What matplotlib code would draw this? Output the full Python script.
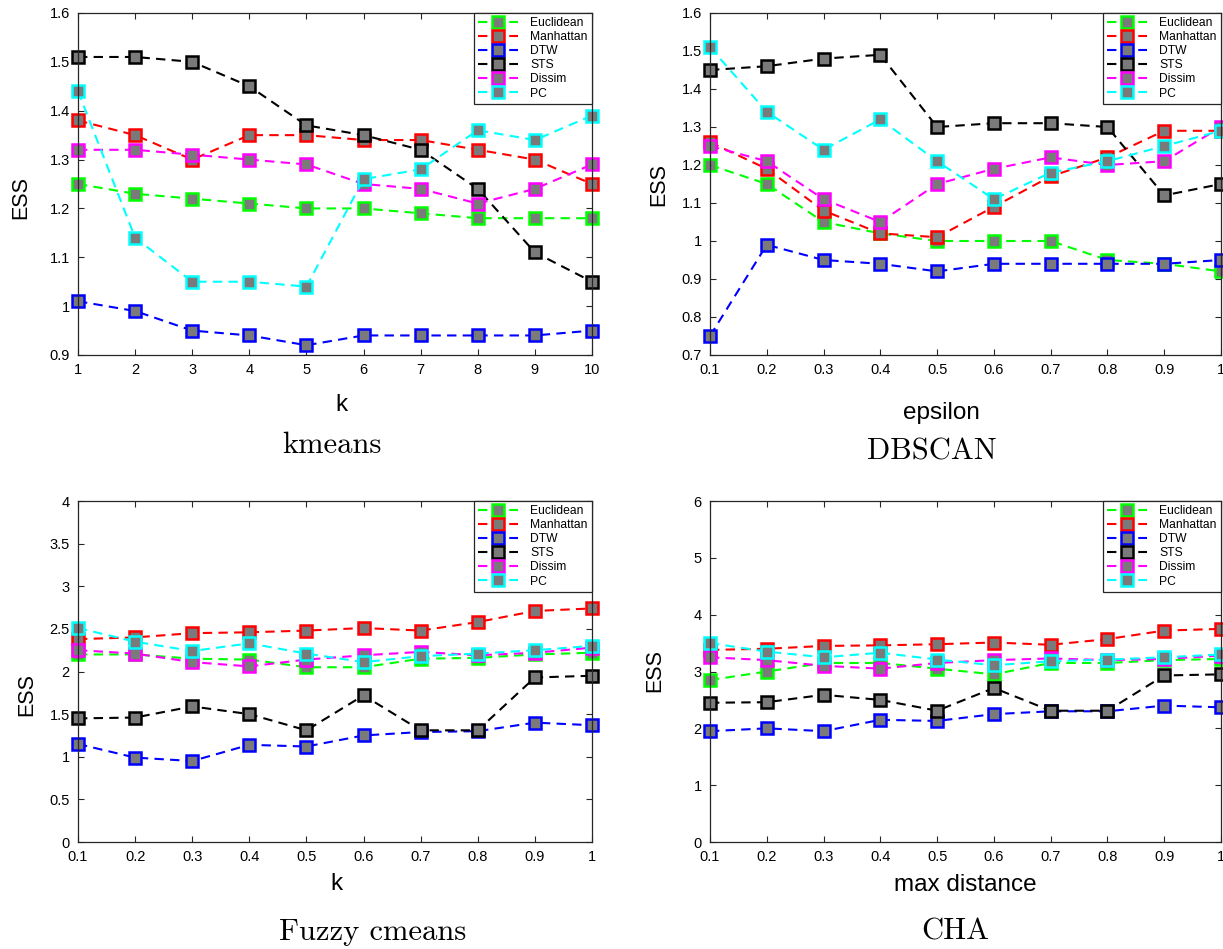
import matplotlib.pyplot as plt
from matplotlib.ticker import FuncFormatter

# x values
k_values = [1, 2, 3, 4, 5, 6, 7, 8, 9, 10]
frac_values = [0.1, 0.2, 0.3, 0.4, 0.5, 0.6, 0.7, 0.8, 0.9, 1.0]

methods = ["Euclidean", "Manhattan", "DTW", "STS", "Dissim", "PC"]
colors = ["#00ff00", "#ff0000", "#0000ff", "#000000", "#ff00ff", "#00ffff"]

# ESS per method (rows follow `methods`)
kmeans_ess = [
    [1.25, 1.23, 1.22, 1.21, 1.20, 1.20, 1.19, 1.18, 1.18, 1.18],
    [1.38, 1.35, 1.30, 1.35, 1.35, 1.34, 1.34, 1.32, 1.30, 1.25],
    [1.01, 0.99, 0.95, 0.94, 0.92, 0.94, 0.94, 0.94, 0.94, 0.95],
    [1.51, 1.51, 1.50, 1.45, 1.37, 1.35, 1.32, 1.24, 1.11, 1.05],
    [1.32, 1.32, 1.31, 1.30, 1.29, 1.25, 1.24, 1.21, 1.24, 1.29],
    [1.44, 1.14, 1.05, 1.05, 1.04, 1.26, 1.28, 1.36, 1.34, 1.39],
]
dbscan_ess = [
    [1.20, 1.15, 1.05, 1.02, 1.00, 1.00, 1.00, 0.95, 0.94, 0.92],
    [1.26, 1.19, 1.08, 1.02, 1.01, 1.09, 1.17, 1.22, 1.29, 1.29],
    [0.75, 0.99, 0.95, 0.94, 0.92, 0.94, 0.94, 0.94, 0.94, 0.95],
    [1.45, 1.46, 1.48, 1.49, 1.30, 1.31, 1.31, 1.30, 1.12, 1.15],
    [1.25, 1.21, 1.11, 1.05, 1.15, 1.19, 1.22, 1.20, 1.21, 1.30],
    [1.51, 1.34, 1.24, 1.32, 1.21, 1.11, 1.18, 1.21, 1.25, 1.29],
]
fuzzy_ess = [
    [2.20, 2.20, 2.15, 2.14, 2.05, 2.05, 2.15, 2.16, 2.20, 2.22],
    [2.38, 2.40, 2.45, 2.46, 2.48, 2.51, 2.48, 2.58, 2.71, 2.74],
    [1.15, 0.99, 0.95, 1.14, 1.12, 1.25, 1.29, 1.30, 1.40, 1.37],
    [1.45, 1.46, 1.59, 1.50, 1.31, 1.72, 1.31, 1.31, 1.93, 1.95],
    [2.25, 2.21, 2.11, 2.06, 2.14, 2.19, 2.23, 2.19, 2.22, 2.28],
    [2.51, 2.35, 2.24, 2.33, 2.21, 2.11, 2.18, 2.21, 2.25, 2.30],
]
cha_ess = [
    [2.85, 3.00, 3.15, 3.15, 3.05, 2.95, 3.15, 3.15, 3.20, 3.22],
    [3.38, 3.40, 3.45, 3.46, 3.48, 3.51, 3.47, 3.57, 3.72, 3.75],
    [1.95, 2.00, 1.95, 2.15, 2.13, 2.25, 2.30, 2.30, 2.40, 2.37],
    [2.45, 2.46, 2.59, 2.50, 2.31, 2.71, 2.31, 2.31, 2.93, 2.95],
    [3.25, 3.20, 3.10, 3.05, 3.15, 3.20, 3.23, 3.20, 3.22, 3.28],
    [3.50, 3.35, 3.25, 3.33, 3.21, 3.11, 3.18, 3.21, 3.25, 3.30],
]

W, H = 1223, 949


def make_axes(fig, left, top, right, bottom):
    """Add axes from pixel edges."""
    return fig.add_axes([left / W, 1 - bottom / H, (right - left) / W, (bottom - top) / H])


def plot_panel(ax, x, data, xlim, ylim, yticks, xlabel, xlabel_pos, ylabel_pos):
    for name, color, values in zip(methods, colors, data):
        ax.plot(x, values, color=color, lw=1.5, dashes=(4.5, 3),
                marker="s", ms=9, mfc="#7a7a7a", mec=color, mew=1.8,
                label=name, clip_on=False)

    ax.set_xlim(*xlim)
    ax.set_ylim(*ylim)
    ax.set_xticks(x)
    ax.set_yticks(yticks)
    fmt = FuncFormatter(lambda v, p: f"{v:g}")
    ax.xaxis.set_major_formatter(fmt)
    ax.yaxis.set_major_formatter(fmt)
    ax.tick_params(direction="in", length=4, width=0.8, top=True, right=True,
                   labelsize=10.5, pad=6, color="#262626")
    for spine in ax.spines.values():
        spine.set_linewidth(0.9)
        spine.set_color("#262626")

    ax.set_xlabel(xlabel, fontsize=17.5, va="center")
    ax.xaxis.set_label_coords(*xlabel_pos)
    ax.set_ylabel("ESS", fontsize=15.5, va="center")
    ax.yaxis.set_label_coords(*ylabel_pos)

    leg = ax.legend(loc="upper right", borderaxespad=0, fontsize=8.7,
                    handlelength=3.3, handletextpad=1.0, labelspacing=0.17,
                    borderpad=0.35, fancybox=False, framealpha=1,
                    edgecolor="#262626")
    leg.get_frame().set_linewidth(0.9)


def main():
    plt.rcParams["font.family"] = ["Liberation Sans", "DejaVu Sans"]
    fig = plt.figure(figsize=(W / 100, H / 100), dpi=100)

    ax1 = make_axes(fig, 78, 13, 592, 355)
    plot_panel(ax1, k_values, kmeans_ess, (1, 10), (0.9, 1.6),
               [0.9, 1.0, 1.1, 1.2, 1.3, 1.4, 1.5, 1.6], "k",
               (0.512, -0.146), (-0.111, 0.46))

    ax2 = make_axes(fig, 710, 13, 1221, 355)
    plot_panel(ax2, frac_values, dbscan_ess, (0.1, 1), (0.7, 1.6),
               [0.7, 0.8, 0.9, 1.0, 1.1, 1.2, 1.3, 1.4, 1.5, 1.6], "epsilon",
               (0.452, -0.17), (-0.1, 0.5))

    ax3 = make_axes(fig, 78, 501, 592, 842)
    plot_panel(ax3, frac_values, fuzzy_ess, (0.1, 1), (0, 4),
               [0, 0.5, 1, 1.5, 2, 2.5, 3, 3.5, 4], "k",
               (0.502, -0.124), (-0.099, 0.434))

    ax4 = make_axes(fig, 710, 501, 1221, 842)
    plot_panel(ax4, frac_values, cha_ess, (0.1, 1), (0, 6),
               [0, 1, 2, 3, 4, 5, 6], "max distance",
               (0.499, -0.127), (-0.108, 0.504))

    # Panel captions
    captions = [("kmeans", 332, 445), ("DBSCAN", 932, 452),
                ("Fuzzy cmeans", 373, 932), ("CHA", 955, 932)]
    for text, px, py in captions:
        fig.text(px / W, 1 - py / H, text, fontsize=22, family="cmr10",
                 ha="center", va="center")

    fig.savefig("out.png", dpi=100)


if __name__ == "__main__":
    main()
